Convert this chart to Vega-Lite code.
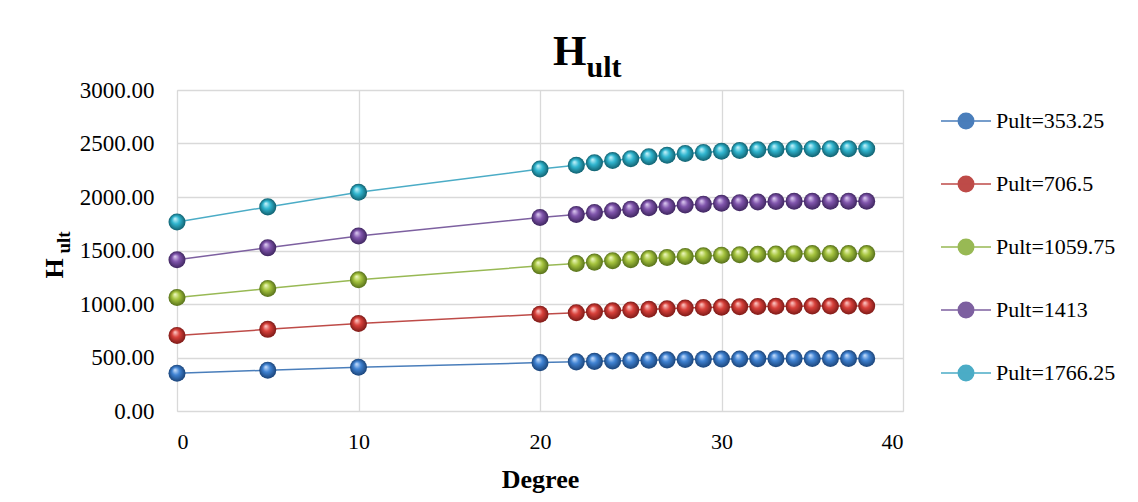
{
 "$schema": "https://vega.github.io/schema/vega-lite/v6.json",
 "width": 726,
 "height": 321,
 "autosize": "none",
 "padding": {"left": 177, "top": 90, "right": 235, "bottom": 91},
 "background": "white",
 "config": {"view": {"stroke": "#d9d9d9"}, "font": "Liberation Serif"},
 "title": {"text": "H", "anchor": "start", "frame": "group", "dx": 376, "offset": -22, "font": "Liberation Serif", "fontSize": 43, "fontWeight": "bold", "color": "black"},
 "datasets": {
  "h": [
   {"series": "Pult=353.25", "degree": 0, "H": 353.3}, {"series": "Pult=353.25", "degree": 5, "H": 381.5}, {"series": "Pult=353.25", "degree": 10, "H": 408.7}, {"series": "Pult=353.25", "degree": 20, "H": 452.2}, {"series": "Pult=353.25", "degree": 22, "H": 459.2}, {"series": "Pult=353.25", "degree": 23, "H": 463.8}, {"series": "Pult=353.25", "degree": 24, "H": 468.1}, {"series": "Pult=353.25", "degree": 25, "H": 471.6}, {"series": "Pult=353.25", "degree": 26, "H": 475.1}, {"series": "Pult=353.25", "degree": 27, "H": 477.9}, {"series": "Pult=353.25", "degree": 28, "H": 481.1}, {"series": "Pult=353.25", "degree": 29, "H": 483.2}, {"series": "Pult=353.25", "degree": 30, "H": 485.4}, {"series": "Pult=353.25", "degree": 31, "H": 486.8}, {"series": "Pult=353.25", "degree": 32, "H": 488.2}, {"series": "Pult=353.25", "degree": 33, "H": 489.3}, {"series": "Pult=353.25", "degree": 34, "H": 490.0}, {"series": "Pult=353.25", "degree": 35, "H": 490.3}, {"series": "Pult=353.25", "degree": 36, "H": 490.3}, {"series": "Pult=353.25", "degree": 37, "H": 490.3}, {"series": "Pult=353.25", "degree": 38, "H": 490.3},
   {"series": "Pult=706.5", "degree": 0, "H": 706.5}, {"series": "Pult=706.5", "degree": 5, "H": 763.0}, {"series": "Pult=706.5", "degree": 10, "H": 817.4}, {"series": "Pult=706.5", "degree": 20, "H": 904.3}, {"series": "Pult=706.5", "degree": 22, "H": 918.5}, {"series": "Pult=706.5", "degree": 23, "H": 927.6}, {"series": "Pult=706.5", "degree": 24, "H": 936.1}, {"series": "Pult=706.5", "degree": 25, "H": 943.2}, {"series": "Pult=706.5", "degree": 26, "H": 950.2}, {"series": "Pult=706.5", "degree": 27, "H": 955.9}, {"series": "Pult=706.5", "degree": 28, "H": 962.3}, {"series": "Pult=706.5", "degree": 29, "H": 966.5}, {"series": "Pult=706.5", "degree": 30, "H": 970.7}, {"series": "Pult=706.5", "degree": 31, "H": 973.6}, {"series": "Pult=706.5", "degree": 32, "H": 976.4}, {"series": "Pult=706.5", "degree": 33, "H": 978.5}, {"series": "Pult=706.5", "degree": 34, "H": 979.9}, {"series": "Pult=706.5", "degree": 35, "H": 980.6}, {"series": "Pult=706.5", "degree": 36, "H": 980.6}, {"series": "Pult=706.5", "degree": 37, "H": 980.6}, {"series": "Pult=706.5", "degree": 38, "H": 980.6},
   {"series": "Pult=1059.75", "degree": 0, "H": 1059.8}, {"series": "Pult=1059.75", "degree": 5, "H": 1144.5}, {"series": "Pult=1059.75", "degree": 10, "H": 1226.1}, {"series": "Pult=1059.75", "degree": 20, "H": 1356.5}, {"series": "Pult=1059.75", "degree": 22, "H": 1377.7}, {"series": "Pult=1059.75", "degree": 23, "H": 1391.4}, {"series": "Pult=1059.75", "degree": 24, "H": 1404.2}, {"series": "Pult=1059.75", "degree": 25, "H": 1414.8}, {"series": "Pult=1059.75", "degree": 26, "H": 1425.4}, {"series": "Pult=1059.75", "degree": 27, "H": 1433.8}, {"series": "Pult=1059.75", "degree": 28, "H": 1443.4}, {"series": "Pult=1059.75", "degree": 29, "H": 1449.7}, {"series": "Pult=1059.75", "degree": 30, "H": 1456.1}, {"series": "Pult=1059.75", "degree": 31, "H": 1460.3}, {"series": "Pult=1059.75", "degree": 32, "H": 1464.6}, {"series": "Pult=1059.75", "degree": 33, "H": 1467.8}, {"series": "Pult=1059.75", "degree": 34, "H": 1469.9}, {"series": "Pult=1059.75", "degree": 35, "H": 1470.9}, {"series": "Pult=1059.75", "degree": 36, "H": 1470.9}, {"series": "Pult=1059.75", "degree": 37, "H": 1470.9}, {"series": "Pult=1059.75", "degree": 38, "H": 1470.9},
   {"series": "Pult=1413", "degree": 0, "H": 1413.0}, {"series": "Pult=1413", "degree": 5, "H": 1526.0}, {"series": "Pult=1413", "degree": 10, "H": 1634.8}, {"series": "Pult=1413", "degree": 20, "H": 1808.6}, {"series": "Pult=1413", "degree": 22, "H": 1836.9}, {"series": "Pult=1413", "degree": 23, "H": 1855.3}, {"series": "Pult=1413", "degree": 24, "H": 1872.2}, {"series": "Pult=1413", "degree": 25, "H": 1886.4}, {"series": "Pult=1413", "degree": 26, "H": 1900.5}, {"series": "Pult=1413", "degree": 27, "H": 1911.8}, {"series": "Pult=1413", "degree": 28, "H": 1924.5}, {"series": "Pult=1413", "degree": 29, "H": 1933.0}, {"series": "Pult=1413", "degree": 30, "H": 1941.5}, {"series": "Pult=1413", "degree": 31, "H": 1947.1}, {"series": "Pult=1413", "degree": 32, "H": 1952.8}, {"series": "Pult=1413", "degree": 33, "H": 1957.0}, {"series": "Pult=1413", "degree": 34, "H": 1959.8}, {"series": "Pult=1413", "degree": 35, "H": 1961.2}, {"series": "Pult=1413", "degree": 36, "H": 1961.2}, {"series": "Pult=1413", "degree": 37, "H": 1961.2}, {"series": "Pult=1413", "degree": 38, "H": 1961.2},
   {"series": "Pult=1766.25", "degree": 0, "H": 1766.3}, {"series": "Pult=1766.25", "degree": 5, "H": 1907.6}, {"series": "Pult=1766.25", "degree": 10, "H": 2043.5}, {"series": "Pult=1766.25", "degree": 20, "H": 2260.8}, {"series": "Pult=1766.25", "degree": 22, "H": 2296.1}, {"series": "Pult=1766.25", "degree": 23, "H": 2319.1}, {"series": "Pult=1766.25", "degree": 24, "H": 2340.3}, {"series": "Pult=1766.25", "degree": 25, "H": 2358.0}, {"series": "Pult=1766.25", "degree": 26, "H": 2375.6}, {"series": "Pult=1766.25", "degree": 27, "H": 2389.7}, {"series": "Pult=1766.25", "degree": 28, "H": 2405.6}, {"series": "Pult=1766.25", "degree": 29, "H": 2416.2}, {"series": "Pult=1766.25", "degree": 30, "H": 2426.8}, {"series": "Pult=1766.25", "degree": 31, "H": 2433.9}, {"series": "Pult=1766.25", "degree": 32, "H": 2441.0}, {"series": "Pult=1766.25", "degree": 33, "H": 2446.3}, {"series": "Pult=1766.25", "degree": 34, "H": 2449.8}, {"series": "Pult=1766.25", "degree": 35, "H": 2451.6}, {"series": "Pult=1766.25", "degree": 36, "H": 2451.6}, {"series": "Pult=1766.25", "degree": 37, "H": 2451.6}, {"series": "Pult=1766.25", "degree": 38, "H": 2451.6}
  ]
 },
 "data": {"name": "h"},
 "layer": [
  {
   "mark": {"type": "line", "strokeWidth": 1.5},
   "encoding": {
    "x": {"field": "degree", "type": "quantitative", "scale": {"domain": [0, 40], "nice": false},
     "axis": {"orient": "bottom", "title": "Degree", "titleFont": "Liberation Serif", "titleFontSize": 26, "titleFontWeight": "bold", "titleColor": "black", "titleBaseline": "alphabetic", "titleY": 76,
      "values": [0, 10, 20, 30, 40], "labelFont": "Liberation Serif", "labelFontSize": 22, "labelColor": "black", "labelPadding": 20, "ticks": false, "domain": false, "grid": true, "gridColor": "#d9d9d9", "gridWidth": 1.3}},
    "y": {"field": "H", "type": "quantitative", "scale": {"domain": [0, 3000], "nice": false},
     "axis": {"orient": "left", "title": "H", "titleFont": "Liberation Serif", "titleFontSize": 26, "titleFontWeight": "bold", "titleColor": "black", "titleAngle": -90, "titleAlign": "center", "titleBaseline": "alphabetic", "titleX": -115, "titleY": 178,
      "values": [0, 500, 1000, 1500, 2000, 2500, 3000], "format": ".2f", "labelFont": "Liberation Serif", "labelFontSize": 23, "labelColor": "black", "labelPadding": 23, "ticks": false, "domain": false, "grid": true, "gridColor": "#d9d9d9", "gridWidth": 1.3}},
    "color": {"field": "series", "type": "nominal",
     "scale": {"domain": ["Pult=353.25", "Pult=706.5", "Pult=1059.75", "Pult=1413", "Pult=1766.25"], "range": ["#4a7ebb", "#be4b48", "#98b954", "#7d60a0", "#4bacc6"]},
     "legend": {"orient": "none", "legendX": 763, "legendY": 5, "title": null, "padding": 0,
      "symbolType": "M-1,0L1,0M-0.31,0A0.31,0.31,0,1,1,0.31,0A0.31,0.31,0,1,1,-0.31,0Z", "symbolSize": 2500, "symbolStrokeWidth": 1.5,
      "labelFont": "Liberation Serif", "labelFontSize": 22, "labelColor": "black", "labelOffset": 4, "rowPadding": 26,
      "encode": {"symbols": {"update": {"fill": {"scale": "color", "field": "value"}, "fillOpacity": {"value": 1}, "opacity": {"value": 1}}}}}}
   }
  },
  {
   "mark": {"type": "point", "filled": true, "size": 290, "opacity": 1, "strokeWidth": 0},
   "encoding": {
    "x": {"field": "degree", "type": "quantitative", "scale": {"domain": [0, 40], "nice": false},
     "axis": {"orient": "top", "title": "ult", "titleFont": "Liberation Serif", "titleFontSize": 30, "titleFontWeight": "bold", "titleColor": "black", "titleAlign": "left", "titleBaseline": "alphabetic", "titleX": 409, "titleY": -14,
      "labels": false, "ticks": false, "domain": false, "grid": false}},
    "y": {"field": "H", "type": "quantitative", "scale": {"domain": [0, 3000], "nice": false},
     "axis": {"orient": "right", "title": "ult", "titleFont": "Liberation Serif", "titleFontSize": 19, "titleFontWeight": "bold", "titleColor": "black", "titleAngle": -90, "titleAlign": "left", "titleBaseline": "alphabetic", "titleX": -834, "titleY": 163,
      "labels": false, "ticks": false, "domain": false, "grid": false}},
    "fill": {
     "condition": [
      {"test": "datum.series === 'Pult=353.25'", "value": {"gradient": "radial", "x1": 0.38, "y1": 0.3, "r1": 0, "x2": 0.5, "y2": 0.5, "r2": 0.5, "stops": [{"offset": 0, "color": "#cfe4ff"}, {"offset": 0.45, "color": "#3f82d2"}, {"offset": 1, "color": "#1b4479"}]}},
      {"test": "datum.series === 'Pult=706.5'", "value": {"gradient": "radial", "x1": 0.38, "y1": 0.3, "r1": 0, "x2": 0.5, "y2": 0.5, "r2": 0.5, "stops": [{"offset": 0, "color": "#ffd2cf"}, {"offset": 0.45, "color": "#d8403a"}, {"offset": 1, "color": "#7d1a17"}]}},
      {"test": "datum.series === 'Pult=1059.75'", "value": {"gradient": "radial", "x1": 0.38, "y1": 0.3, "r1": 0, "x2": 0.5, "y2": 0.5, "r2": 0.5, "stops": [{"offset": 0, "color": "#f2fbc8"}, {"offset": 0.45, "color": "#a6c43e"}, {"offset": 1, "color": "#56701a"}]}},
      {"test": "datum.series === 'Pult=1413'", "value": {"gradient": "radial", "x1": 0.38, "y1": 0.3, "r1": 0, "x2": 0.5, "y2": 0.5, "r2": 0.5, "stops": [{"offset": 0, "color": "#e2d2f5"}, {"offset": 0.45, "color": "#8055ac"}, {"offset": 1, "color": "#3f2660"}]}},
      {"test": "datum.series === 'Pult=1766.25'", "value": {"gradient": "radial", "x1": 0.38, "y1": 0.3, "r1": 0, "x2": 0.5, "y2": 0.5, "r2": 0.5, "stops": [{"offset": 0, "color": "#cff6fd"}, {"offset": 0.45, "color": "#30b6d0"}, {"offset": 1, "color": "#11606f"}]}}
     ],
     "value": "#888888"
    }
   }
  }
 ],
 "resolve": {"axis": {"x": "independent", "y": "independent"}}
}
